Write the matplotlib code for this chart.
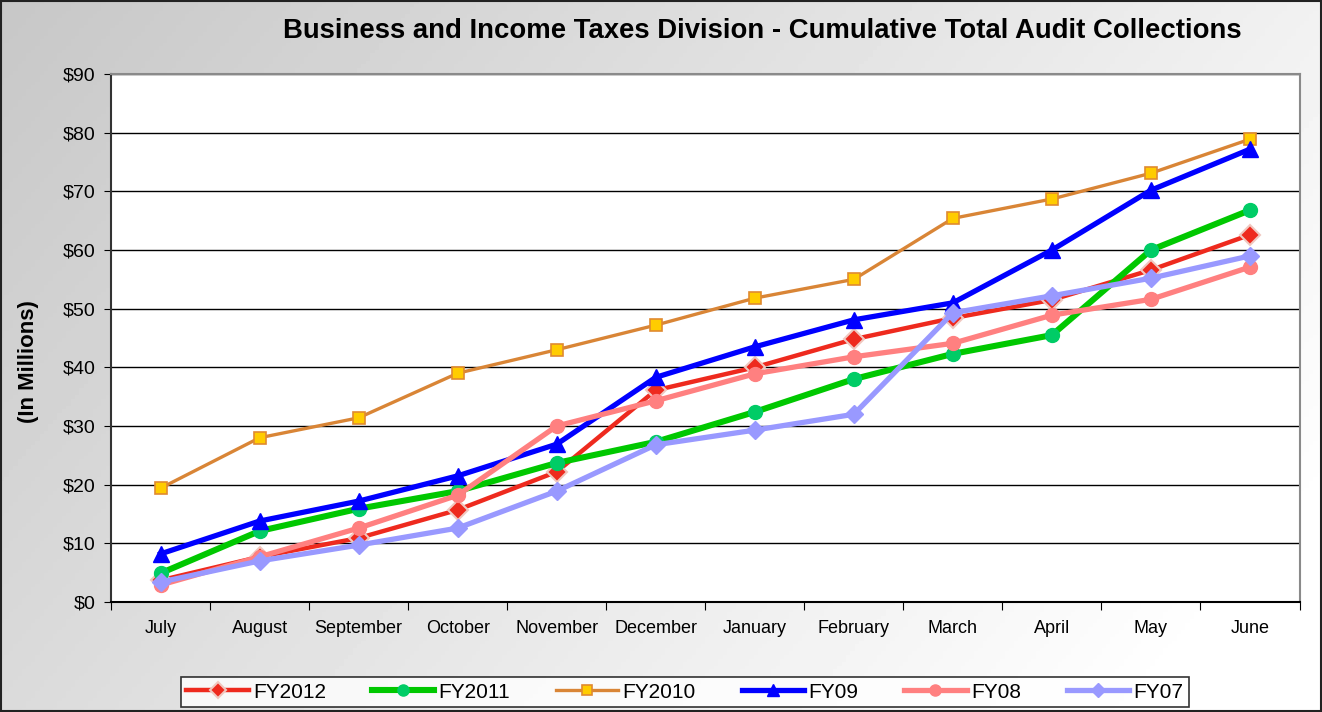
import numpy as np
import matplotlib
matplotlib.use('Agg')
import matplotlib.pyplot as plt
from matplotlib.ticker import FuncFormatter

plt.rcParams['font.family'] = ['Liberation Sans', 'DejaVu Sans']

# --- Data (cumulative collections, $ millions) ---
months = ["July", "August", "September", "October", "November", "December",
          "January", "February", "March", "April", "May", "June"]
fy2012 = [3.7, 7.7, 10.9, 15.7, 22.2, 36.1, 40.0, 44.8, 48.4, 51.5, 56.6, 62.6]
fy2011 = [4.9, 12.1, 15.9, 18.9, 23.7, 27.3, 32.4, 38.0, 42.3, 45.5, 60.0, 66.8]
fy2010 = [19.4, 28.0, 31.4, 39.0, 43.0, 47.2, 51.8, 55.0, 65.4, 68.7, 73.1, 78.9]
fy09 = [8.2, 13.8, 17.2, 21.5, 26.9, 38.3, 43.5, 48.1, 51.0, 60.0, 70.2, 77.2]
fy08 = [2.9, 7.7, 12.6, 18.2, 30.0, 34.3, 38.9, 41.8, 44.1, 48.9, 51.6, 57.1]
fy07 = [3.4, 7.0, 9.7, 12.6, 18.9, 26.8, 29.3, 32.0, 49.3, 52.2, 55.2, 59.0]
y_ticks = list(range(0, 100, 10))

fig = plt.figure(figsize=(13.22, 7.12), dpi=100)

# gradient background
bg = fig.add_axes([0, 0, 1, 1], zorder=-10)
xx, yy = np.meshgrid(np.linspace(0, 1, 300), np.linspace(0, 1, 200))
grad = 0.78 + 0.22 * np.clip(0.75 * xx + 0.35 * yy, 0, 1)
bg.imshow(grad, cmap='gray', vmin=0, vmax=1, aspect='auto', extent=[0, 1, 0, 1], origin='upper')
bg.set_xlim(0, 1); bg.set_ylim(0, 1)
bg.axis('off')
bg.add_patch(plt.Rectangle((0.001, 0.001), 0.998, 0.997, fill=False, ec='#222222', lw=1.5))

ax = fig.add_axes([0.084, 0.1545, 0.899, 0.7415])
ax.set_facecolor('white')
x = np.arange(len(months))

series = [
    ("FY2012", fy2012, dict(color='#ee2a1e', lw=3.2, marker='D', ms=10, mfc='#ee2a1e', mec='#f0c8c0', mew=1.5)),
    ("FY2011", fy2011, dict(color='#00c800', lw=4.4, marker='o', ms=10, mfc='#00cc66', mec='#00cc66')),
    ("FY2010", fy2010, dict(color='#d98536', lw=2.4, marker='s', ms=9, mfc='#ffcc00', mec='#e08a30', mew=1.2)),
    ("FY09", fy09, dict(color='#0000ff', lw=3.8, marker='^', ms=11, mfc='#0000ff', mec='#0000ff')),
    ("FY08", fy08, dict(color='#ff8080', lw=3.8, marker='o', ms=10, mfc='#ff8080', mec='#ff8080')),
    ("FY07", fy07, dict(color='#9999ff', lw=3.8, marker='D', ms=9, mfc='#9999ff', mec='#9999ff')),
]
for name, vals, st in series:
    ax.plot(x, vals, label=name, **st)

ax.set_xlim(-0.5, len(months) - 0.5)
ax.set_ylim(0, 90)
ax.set_yticks(y_ticks)
ax.yaxis.set_major_formatter(FuncFormatter(lambda v, p: f"${v:.0f}"))
ax.grid(axis='y', color='black', lw=1.0)
ax.set_axisbelow(True)

ax.set_xticks(np.arange(-0.5, len(months), 1.0))
ax.set_xticklabels([])
ax.set_xticks(x, minor=True)
ax.set_xticklabels(months, minor=True)
ax.tick_params(axis='x', which='minor', length=0, pad=13, labelsize=13)
ax.tick_params(axis='x', which='major', length=6, direction='out', color='black')
ax.tick_params(axis='y', length=5, direction='out', labelsize=14, pad=6)

for s in ['top', 'right']:
    ax.spines[s].set_color('#8a8a8a')
    ax.spines[s].set_linewidth(1.5)
ax.spines['left'].set_color('#333333')
ax.spines['left'].set_linewidth(1.5)
ax.spines['bottom'].set_color('black')
ax.spines['bottom'].set_linewidth(1.5)

ax.set_ylabel("(In Millions)", fontsize=16, fontweight='bold')
ax.yaxis.set_label_coords(-0.061, 0.456)

fig.text(0.577, 0.957, "Business and Income Taxes Division - Cumulative Total Audit Collections",
         ha='center', va='center', fontsize=19.8, fontweight='bold')

leg = fig.legend(loc='center', bbox_to_anchor=(0.518, 0.028), ncol=6, fontsize=15,
                 frameon=True, fancybox=False, edgecolor='black', handlelength=3.0,
                 columnspacing=2.2, handletextpad=0.2, borderpad=0.25, markerscale=0.8)
leg.get_frame().set_linewidth(1.2)

fig.savefig('out.png', dpi=100)
